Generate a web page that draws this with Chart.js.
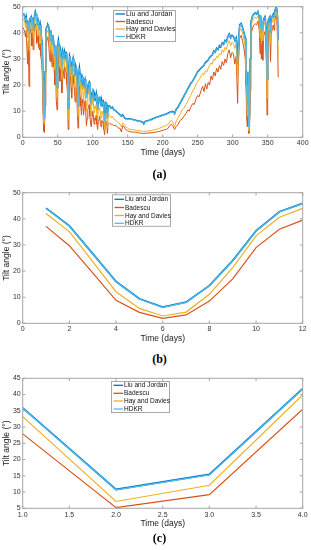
<!DOCTYPE html>
<html><head><meta charset="utf-8">
<script src="https://cdn.jsdelivr.net/npm/chart.js@4"></script>
<style>
body{margin:0;width:311px;height:550px;background:#fff;position:relative;overflow:hidden;font-family:"Liberation Sans",Arial,sans-serif}
canvas{position:absolute;left:0}
.cap{position:absolute;left:0;width:319px;text-align:center;font:bold 12px/14px "Liberation Serif","Times New Roman",serif;color:#000}
</style></head>
<body>
<canvas id="ca" width="311" height="160" style="top:0"></canvas>
<canvas id="cb" width="311" height="166" style="top:180px"></canvas>
<canvas id="cc" width="311" height="166" style="top:366px"></canvas>
<div class="cap" style="top:167px">(a)</div>
<div class="cap" style="top:352px">(b)</div>
<div class="cap" style="top:531px">(c)</div>
<script>
// ---------- Data ----------
const seriesNames = ['Liu and Jordan','Badescu','Hay and Davies','HDKR'];

// Panel (a): daily optimum tilt angle
const daysA = [
 1,3,4,5,7,8,9,10,12,13,
 14,15,16,18,19,20,21,22,23,24,
 25,26,27,28,29,30,31,32,33,35,
 36,37,38,39,40,41,42,43,44,45,
 46,47,48,49,50,51,52,53,54,55,
 56,57,58,59,60,61,62,63,64,65,
 66,67,68,69,70,71,72,73,74,75,
 76,77,78,79,80,81,82,83,84,85,
 86,87,88,89,90,91,92,93,94,95,
 96,97,98,99,100,101,102,103,104,105,
 106,107,108,109,110,111,112,113,114,115,
 116,117,118,119,120,121,122,124,126,128,
 130,133,135,137,139,141,143,145,147,150,
 153,156,160,164,168,171,173,175,178,182,
 186,190,194,198,202,205,208,210,212,214,
 216,217,219,222,225,228,230,233,236,238,
 240,243,245,248,250,252,255,257,259,261,
 263,265,267,269,271,273,275,277,279,281,
 283,285,287,289,291,293,295,297,299,301,
 303,305,307,308,310,312,314,316,318,319,
 320,321,322,323,324,325,326,328,330,332,
 334,336,338,339,340,341,342,343,344,346,
 347,348,349,350,351,353,354,355,357,358,
 359,360,361,362,363,364,365];
const hdkrA = [
 47.5,46,44.5,46,42,44.5,40,45,46,43,
 45.5,41,45,48,47,44,43.5,44.5,42,41.5,
 43,40,37.5,36,22,9,7,25,41,42.5,
 43,42.5,40,37,41,38,35.5,39,37,34.5,
 31,35,24,19,35,37,35,31,33,30.5,
 27,33,32,30,32.5,31.5,32,29,27,11,
 26,31,30,27,24,28.5,30,28,26,23.5,
 27,26,20,12,24.5,26.5,24,22,19.5,23,
 22,18.5,21,22,19.5,15,17,19.5,20.5,21,
 18,15.5,12.5,17,18.5,17,14,16,15,16.5,
 13.5,10.5,14,15,15.5,13,12,14,13,13.5,
 10,6,11,13,12.5,7,12,12,11,11.5,
 10.5,10,9.5,9,8.5,8,8.5,7.5,7,7,
 7,6.8,6.5,6.2,6,5.8,5,6,6.2,6.5,
 7,7.5,7.8,8.2,8.5,8.8,9.2,9.5,9.7,9.8,
 9.5,9,10.5,11.5,13,14.5,15.5,17,18.5,19.5,
 20.5,21.5,22.5,24,25,25.5,26.5,27,27.5,28.5,
 29,29.5,30.5,31,31.5,33,32.5,34,33.5,35,
 34.5,36,35.5,37,36.5,38.5,39.5,38,39,38.5,
 37,38,28,36,43,43.5,42,40,38,30,
 18,12,25,4,8,30,44,46,47,47.5,
 47,48,46,42,46.5,40,44,41,45,46,
 44,40,22,42,45,46,40,45,46.5,47,
 46,48,49,49.5,49,46,37];
const liuJordanA = [
 47.6,46.1,44.6,46.1,42.1,44.6,40.1,45.1,46.1,43.1,
 45.6,41.1,45.1,48.1,47.1,44.1,43.6,44.6,42.1,41.6,
 43.1,40.1,37.6,36.1,22.1,9.1,7.1,25.1,41.1,42.6,
 43.1,42.6,40.1,37.1,41.1,38.1,35.6,39.1,37.1,34.6,
 31.1,35.1,24.1,19.1,35.1,37.1,35.1,31.1,33.1,30.6,
 27.1,33.1,32.1,30.1,32.6,31.6,32.1,29.1,27.1,11.1,
 26.1,31.1,30.1,27.1,24.1,28.6,30.1,28.1,26.1,23.6,
 27.1,26.1,20.1,12.1,24.6,26.6,24.1,22.1,19.6,23.1,
 22.1,18.6,21.1,22.1,19.6,15.1,17.1,19.6,20.6,21.1,
 18.1,15.6,12.6,17.1,18.6,17.1,14.1,16.1,15.1,16.6,
 13.6,10.6,14.1,15.1,15.6,13.1,12.1,14.1,13.1,13.6,
 10.1,6.1,11.1,13.1,12.6,7.1,12.1,12.1,11.1,11.6,
 10.6,10.1,9.6,9.1,8.6,8.1,8.6,7.6,7.1,7.1,
 7.1,6.9,6.6,6.3,6.1,5.9,5.1,6.1,6.3,6.6,
 7.1,7.6,7.9,8.3,8.6,8.9,9.3,9.6,9.8,9.9,
 9.6,9.1,10.6,11.6,13.1,14.6,15.6,17.1,18.6,19.6,
 20.6,21.6,22.6,24.1,25.1,25.6,26.6,27.1,27.6,28.6,
 29.1,29.6,30.6,31.1,31.6,33.1,32.6,34.1,33.6,35.1,
 34.6,36.1,35.6,37.1,36.6,38.6,39.6,38.1,39.1,38.6,
 37.1,38.1,28.1,36.1,43.1,43.6,42.1,40.1,38.1,30.1,
 18.1,12.1,25.1,4.1,8.1,30.1,44.1,46.1,47.1,47.6,
 47.1,48.1,46.1,42.1,46.6,40.1,44.1,41.1,45.1,46.1,
 44.1,40.1,22.1,42.1,45.1,46.1,40.1,45.1,46.6,47.1,
 46.1,48.1,49.1,49.6,49.1,46.1,37.1];
const hayA = [
 45.5,44,42,44,38,42,33,43,44,40,
 43,38,43,46.5,45,41,41,42.5,39,38.5,
 40.5,36.5,34,31,17,6,5,20,38.5,40.5,
 41,40,37,33.5,39,35.5,32,36.5,34,31,
 26,31.5,19,15,32,35,32,27,30.5,27,
 23,30.5,29.5,27,30,29,29.5,26,23,7,
 22,28.5,27.5,23.5,20,26,27.5,25,22.5,19,
 24,23,15,8,21,24,21,18,14.5,20,
 18.5,14,17.5,19,15.5,10,12.5,16,17,18,
 14,11,8,13,15,13,9.5,12,11,12.5,
 9,6,10,11,11.5,9,7.5,10,9,9.5,
 6,3,7,9,8.5,3.5,8,8.5,7.5,8,
 7,6.5,6,5.5,5,4,5.5,5,4,3.5,
 3,3,2.8,2.5,2.5,2.3,2.2,2.3,2.4,2.5,
 2.8,3,3.3,3.8,4.2,4.5,5,6,6.5,6,
 4.5,4,6,7.5,9,10.5,11,12.5,14,15,
 16,18,18.5,20.5,21.5,22,23.5,24.5,24,25.5,
 25,26.5,27.5,28.5,28,30,29.5,31,30.5,32,
 31.5,33.5,32.5,34.5,33.5,36,37,35,36.5,36,
 34,35.5,21,33,41,41.5,40,37.5,35,26,
 13,8,20,2.5,5,25,42,44.5,45.5,46,
 45.5,46.5,44,38,44.5,36,41.5,37,42.5,44,
 42,36,15,39,43,44,36,43,44.5,45.5,
 44,46.5,47.5,48,47,43,31];
const badescuA = [
 42,40,38.5,41,28,37,19.5,40,41.5,35,
 40,33.5,40,43.5,42,36,37,39,34.5,33.5,
 36,31,29,24,10,2.5,1.8,12,35,37.5,
 38.5,36.5,32,29,35,31,27,32.5,28,26,
 20,27,14,10.5,28,31,27.5,21.5,26,22,
 17,27,25.5,22.5,27,26,25,20.5,17,3,
 16,25,24,19,15,22,24,20.5,17.5,13.5,
 19.5,18,10,3.5,16.5,19.5,15.5,12,8.5,14.5,
 13,8.5,11.5,14,10.5,4.5,7,10.5,11.5,12.5,
 8,5.5,4,8,10,8,5,7.5,6.5,8.5,
 5,3,6,7,8,5,4,6.5,5.5,6,
 3,1,4.5,6,5.5,1.5,5,5.5,5,5,
 4.5,4.5,4,3.5,3.5,2,4.5,4,3,2.5,
 2.2,2,2,1.8,1.6,1.5,1.5,1.5,1.6,1.7,
 1.8,2,2.2,2.5,2.8,3,3.5,4.5,5,4.5,
 3.5,3,4,5,6.5,7,8,9,10.5,10,
 11.5,13,12.5,15,16,15.5,18,19.5,17.5,20.5,
 18.5,21,20,23.5,22,25,23.5,26.5,25,27.5,
 26,29,27.5,30,28.5,32,33.5,30.5,32.5,32,
 28,31,13,27,38,39,37,34,30,20,
 7,4,14,1.5,2.5,18,39,41.5,43,43.5,
 43,44.5,41,32,41,30,37,29.5,38.5,40.5,
 38,30,8.5,34,40,41,29,39.5,42,43,
 41,44.5,46,46.5,45,38,23];

// Panel (b): monthly
const monthsB = [1,2,3,4,5,6,7,8,9,10,11,12];
const liuJordanB = [44.1,37.3,26.7,16.0,9.4,6.2,8.1,14.4,24.0,35.4,42.7,45.9];
const badescuB   = [37.1,29.7,19.3,8.8,4.2,1.9,3.2,8.5,17.0,29.0,36.0,39.5];
const hayB       = [42.0,35.1,23.6,12.1,5.7,2.8,4.3,11.1,21.3,33.5,40.6,44.0];
const hdkrB      = [44.0,37.2,26.6,15.9,9.3,6.1,8.0,14.3,23.9,35.3,42.6,45.8];

// Panel (c): seasonal
const seasonsC = [1,2,3,4];
const liuJordanC = [35.9,10.8,15.4,41.8];
const badescuC   = [27.9,5.2,9.2,35.5];
const hayC       = [33.2,7.1,12.1,39.9];
const hdkrC      = [35.8,10.7,15.3,41.7];

// Tick settings
const xTicksA = {min:0,max:400,step:50};
const xTicksB = {min:0,max:12,step:2};
const xTicksC = {min:1,max:4,step:0.5};
const yTicksA = {min:0,max:50,step:10};
const yTicksB = {min:0,max:50,step:10};
const yTicksC = {min:5,max:45,step:5};

// ---------- Drawing ----------
const COLORS = ['#0072BD','#D95319','#EDB120','#4DBEEE'];
const FONT = '"Liberation Sans", Arial, sans-serif';

const boxTicks = {
  id:'boxTicks',
  afterDatasetsDraw(chart){
    const {ctx, chartArea:a, scales:{x,y}} = chart;
    const L = 2.8;
    ctx.save();
    ctx.strokeStyle = '#a6a6a6'; ctx.lineWidth = 1;
    ctx.beginPath();
    x.ticks.forEach(t=>{const p=x.getPixelForValue(t.value);
      ctx.moveTo(p,a.bottom);ctx.lineTo(p,a.bottom-L);ctx.moveTo(p,a.top);ctx.lineTo(p,a.top+L);});
    y.ticks.forEach(t=>{const p=y.getPixelForValue(t.value);
      ctx.moveTo(a.left,p);ctx.lineTo(a.left+L,p);ctx.moveTo(a.right,p);ctx.lineTo(a.right-L,p);});
    ctx.stroke();
    ctx.strokeRect(a.left,a.top,a.right-a.left,a.bottom-a.top);
    ctx.restore();
  }
};

// legend box drawn inside the axes (MATLAB-style)
const legendBox = {
  id:'legendBox',
  afterDraw(chart, args, o){
    const ctx = chart.ctx;
    ctx.save();
    ctx.fillStyle = '#fff';
    ctx.fillRect(o.left, o.top, o.w, o.h);
    ctx.strokeStyle = '#a8a8a8'; ctx.lineWidth = 1;
    ctx.strokeRect(o.left+0.5, o.top+0.5, o.w-1, o.h-1);
    ctx.font = `${o.fs}px ${FONT}`;
    ctx.textBaseline = 'middle'; ctx.textAlign = 'left';
    seriesNames.forEach((n,i)=>{
      const y = o.top + o.rows[i];
      ctx.strokeStyle = COLORS[i]; ctx.lineWidth = 1.3;
      ctx.beginPath(); ctx.moveTo(o.left+2.5, y); ctx.lineTo(o.left+12, y); ctx.stroke();
      ctx.fillStyle = '#111';
      ctx.fillText(n, o.left+13, y+0.3);
    });
    ctx.restore();
  }
};

function pts(xs, ys){ return xs.map((v,i)=>({x:v,y:ys[i]})); }

function makeChart(id, o){
  const series = [o.lj, o.bad, o.hay, o.hdkr];
  const orders = [3,2,1,0];
  const datasets = series.map((s,i)=>({
    label: seriesNames[i], data: pts(o.x, s), borderColor: COLORS[i],
    borderWidth: i===0 ? o.lw+0.6 : o.lw, pointRadius:0, tension:0, fill:false, order:orders[i]
  }));
  return new Chart(document.getElementById(id), {
    type:'line',
    data:{datasets},
    options:{
      responsive:false, animation:false, devicePixelRatio:1,
      layout:{padding:{top:o.top,right:8.3,left:0,bottom:0}},
      plugins:{legend:{display:false},tooltip:{enabled:false},legendBox:o.legend},
      scales:{
        x:{type:'linear',min:o.xt.min,max:o.xt.max,
          ticks:{stepSize:o.xt.step,padding:o.xpad,font:{size:7,family:FONT},color:'#333',maxRotation:0,autoSkip:false},
          grid:{display:false,drawTicks:false},border:{display:false},
          title:{display:true,text:'Time (days)',font:{size:8.5,family:FONT},color:'#222',padding:{top:0,bottom:o.tpad}},
          afterFit(s){ s.height = o.h - o.bottom; }
        },
        y:{type:'linear',min:o.yt.min,max:o.yt.max,
          ticks:{stepSize:o.yt.step,padding:2,font:{size:7,family:FONT},color:'#333'},
          grid:{display:false,drawTicks:false},border:{display:false},
          title:{display:true,text:'Tilt angle (°)',font:{size:8.5,family:FONT},color:'#222',padding:{top:1.9,bottom:0}},
          afterFit(s){ s.width = 22.7; }
        }
      }
    },
    plugins:[boxTicks, legendBox]
  });
}

makeChart('ca',{x:daysA,lj:liuJordanA,bad:badescuA,hay:hayA,hdkr:hdkrA,lw:1,
  top:6.7,bottom:137.3,h:160,xpad:1.5,tpad:1.9,xt:xTicksA,yt:yTicksA,
  legend:{left:113,top:10,w:63,h:32,rows:[4,11.5,19,26.5],fs:7}});
makeChart('cb',{x:monthsB,lj:liuJordanB,bad:badescuB,hay:hayB,hdkr:hdkrB,lw:1.2,
  top:12.7,bottom:143.3,h:166,xpad:1.5,tpad:1.9,xt:xTicksB,yt:yTicksB,
  legend:{left:112,top:14.3,w:59,h:32.5,rows:[5,13.2,21.2,29],fs:6.5}});
makeChart('cc',{x:seasonsC,lj:liuJordanC,bad:badescuC,hay:hayC,hdkr:hdkrC,lw:1.2,
  top:12.3,bottom:142.3,h:166,xpad:2.5,tpad:2.9,xt:xTicksC,yt:yTicksC,
  legend:{left:111,top:15,w:59,h:32,rows:[4.3,12.3,20,28],fs:6.5}});
</script>
</body></html>
